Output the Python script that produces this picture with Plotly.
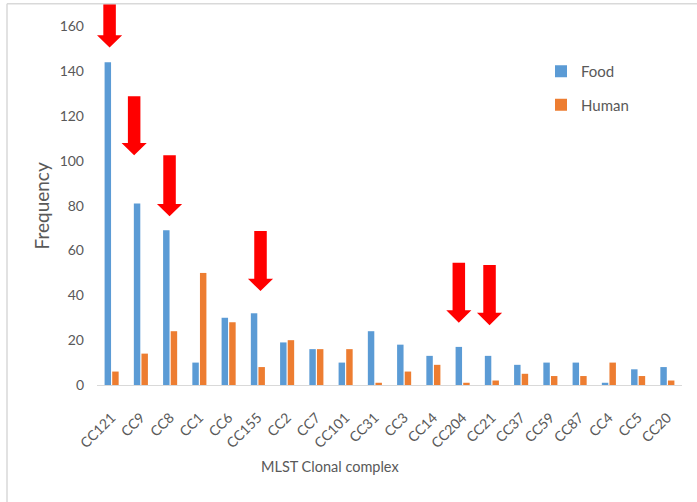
import plotly.graph_objects as go

# MLST clonal complexes and isolate counts per source
categories = ["CC121", "CC9", "CC8", "CC1", "CC6", "CC155", "CC2", "CC7", "CC101", "CC31",
              "CC3", "CC14", "CC204", "CC21", "CC37", "CC59", "CC87", "CC4", "CC5", "CC20"]
food = [144, 81, 69, 10, 30, 32, 19, 16, 10, 24, 18, 13, 17, 13, 9, 10, 10, 1, 7, 8]
human = [6, 14, 24, 50, 28, 8, 20, 16, 16, 1, 6, 9, 1, 2, 5, 4, 4, 10, 4, 2]
y_ticks = [0, 20, 40, 60, 80, 100, 120, 140, 160]

# highlighted complexes: (category, horizontal nudge, arrow top, arrow tip)
arrows = [("CC121", -0.07, 171, 150.6), ("CC9", -0.23, 128.8, 102.5),
          ("CC8", -0.02, 102.5, 75.3), ("CC155", 0.09, 68.7, 41.9),
          ("CC204", -0.13, 54.5, 27.8), ("CC21", -0.08, 53.5, 26.7)]

W, H = 697, 502
ML, MR, MT, MB = 97, 15, 4, 117
PW, PH = W - ML - MR, H - MT - MB
Y_MAX = 170

def px_x(px):
    return (px - ML) / PW

def px_y(py):
    return (H - MB - py) / PH

GRAY_TXT = "#595959"
FONT = "Lato"

fig = go.Figure()
fig.add_trace(go.Bar(x=categories, y=food, name="Food", marker_color="#5B9BD5",
                     marker_line_width=0, legendgroup="food"))
fig.add_trace(go.Bar(x=categories, y=human, name="Human", marker_color="#ED7D31",
                     marker_line_width=0, legendgroup="human"))

shapes = []
shaft_half, head_half, head_len = 0.214, 0.43, 5.5
for cat, dx, top, tip in arrows:
    cx = categories.index(cat) + dx
    neck = tip + head_len
    path = (f"M{cx - shaft_half},{top} L{cx + shaft_half},{top} L{cx + shaft_half},{neck} "
            f"L{cx + head_half},{neck} L{cx},{tip} L{cx - head_half},{neck} "
            f"L{cx - shaft_half},{neck} Z")
    shapes.append(dict(type="path", path=path, xref="x", yref="y",
                       fillcolor="#FF0000", line=dict(width=0), layer="above"))

# chart frame lines (top and left)
shapes.append(dict(type="line", xref="paper", yref="paper", x0=px_x(7), x1=px_x(W),
                   y0=px_y(3.8), y1=px_y(3.8), line=dict(color="#D9D9D9", width=1.5)))
shapes.append(dict(type="line", xref="paper", yref="paper", x0=px_x(7), x1=px_x(7),
                   y0=px_y(3.8), y1=px_y(H), line=dict(color="#D9D9D9", width=1.5)))

fig.update_layout(
    width=W, height=H,
    margin=dict(l=ML, r=MR, t=MT, b=MB),
    paper_bgcolor="white", plot_bgcolor="white",
    barmode="group", bargap=0.48, bargroupgap=0.15,
    font=dict(family=FONT, color=GRAY_TXT, size=14),
    showlegend=True,
    legend=dict(x=px_x(541), y=px_y(55), xanchor="left", yanchor="top",
                font=dict(size=15, color=GRAY_TXT), tracegroupgap=11,
                bgcolor="rgba(0,0,0,0)"),
    xaxis=dict(showline=True, linecolor="#D9D9D9", linewidth=1, ticks="",
               tickangle=-45, showgrid=False, zeroline=False,
               tickfont=dict(size=14, color=GRAY_TXT), ticklabelstandoff=18),
    yaxis=dict(range=[0, Y_MAX], tickvals=y_ticks, showgrid=False, zeroline=False,
               showline=False, ticks="", tickfont=dict(size=14, color=GRAY_TXT),
               ticklabelstandoff=12),
    shapes=shapes,
    annotations=[
        dict(text="Frequency", textangle=-90, xref="paper", yref="paper",
             x=px_x(41), y=px_y(205.5), xanchor="center", yanchor="middle",
             showarrow=False, font=dict(size=19, color=GRAY_TXT)),
        dict(text="MLST Clonal complex", xref="paper", yref="paper",
             x=px_x(330), y=px_y(466), xanchor="center", yanchor="middle",
             showarrow=False, font=dict(size=14.5, color=GRAY_TXT)),
    ],
)

fig.write_html("out.html")
